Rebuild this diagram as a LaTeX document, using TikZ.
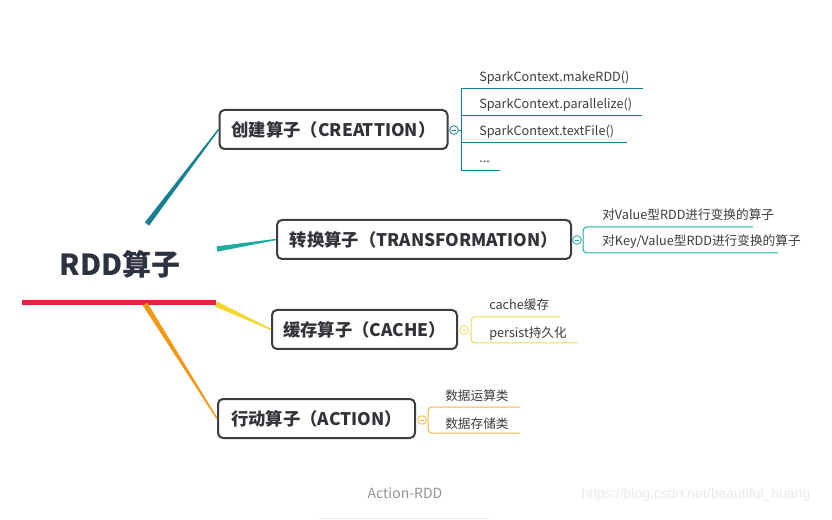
\documentclass[tikz,border=0pt]{standalone}
\usepackage{fontspec}
\setmainfont{Noto Sans CJK SC}
\newfontfamily\urlfont{Liberation Sans}
\usetikzlibrary{calc}
\usepackage{xcolor}

\definecolor{rootgray}{RGB}{45,50,64}
\definecolor{boxgray}{RGB}{60,60,66}
\definecolor{boxtext}{RGB}{50,50,56}
\definecolor{subgray}{RGB}{60,60,60}
\definecolor{rddred}{RGB}{224,38,62}
\definecolor{creteal}{RGB}{22,128,146}
\definecolor{transteal}{RGB}{28,172,160}
\definecolor{cacheyel}{RGB}{246,214,40}
\definecolor{cacheline}{RGB}{242,214,80}
\definecolor{actorange}{RGB}{243,152,20}
\definecolor{actline}{RGB}{242,180,70}

% tapered branch from a start coordinate to a box
\newcommand{\taper}[3]{\fill[#1] ($(#2)!2pt!90:(#3)$) -- ($(#2)!2pt!-90:(#3)$) -- ($(#3)!0.5pt!90:(#2)$) -- ($(#3)!0.5pt!-90:(#2)$) -- cycle;}

\tikzset{
  opbox/.style={draw=boxgray, line width=1.5pt, rectangle, rounded corners=3.75pt, fill=white, minimum height=29.25pt, inner sep=0pt, font=\fontsize{13}{15}\selectfont\bfseries, text=boxtext},
  subtext/.style={anchor=base west, inner sep=0pt, font=\fontsize{9.5}{11}\selectfont, text=subgray},
  fold/.style={circle, draw, fill=white, line width=0.6pt, inner sep=0pt, minimum size=6.5pt},
}

\begin{document}
\begin{tikzpicture}[x=0.75pt, y=-0.75pt]
  \useasboundingbox (0,0) rectangle (832,520);

  \node[font=\fontsize{21.75}{26}\selectfont\bfseries, text=rootgray] (root) at (120,264) {RDD算子};
  \coordinate (barL) at (22,302.5);
  \coordinate (barR) at (216,302.5);
  \draw[rddred, line width=3.75pt] (barL) -- (barR);

  \node[opbox, minimum width=171pt] (cre) at (333.5,129.5) {创建算子（CREATTION）};
  \node[opbox, minimum width=220.5pt] (trans) at (424,239.5) {转换算子（TRANSFORMATION）};
  \node[opbox, minimum width=138.75pt] (cache) at (364.5,329.5) {缓存算子（CACHE）};
  \node[opbox, minimum width=147.75pt] (act) at (316.5,418.5) {行动算子（ACTION）};

  \coordinate (creS) at (147,224);
  \coordinate (transS) at (217,249);
  \coordinate (cacheS) at (216,304);
  \coordinate (actS) at (145,304);
  \taper{creteal}{creS}{cre.west}
  \taper{transteal}{transS}{trans.west}
  \taper{cacheyel}{cacheS}{cache.west}
  \taper{actorange}{actS}{act.west}

  % creation
  \draw[creteal, line width=0.75pt] (643,89) -- (461,89) -- (461,171) -- (500,171);
  \draw[creteal, line width=0.75pt] (461,116) -- (642,116);
  \draw[creteal, line width=0.75pt] (461,143) -- (627,143);
  \node[fold, draw=creteal] (creF) at (454,130) {};
  \coordinate (creB) at (461,130);
  \draw[creteal, line width=0.6pt] (creF.east) -- (creB);
  \draw[creteal, line width=0.6pt] ($(creF)+(-2,0)$) -- ($(creF)+(2,0)$);
  \node[subtext] (mk) at (479,81.5) {SparkContext.makeRDD()};
  \node[subtext] (par) at (479,108.5) {SparkContext.parallelize()};
  \node[subtext] (tf) at (479,135.5) {SparkContext.textFile()};
  \node[subtext] (dots) at (479,163) {...};

  % transformation
  \draw[transteal, line width=0.75pt, rounded corners=3pt] (753,227) -- (583,227) -- (583,253) -- (778,253);
  \node[fold, draw=transteal] (transF) at (577,240) {};
  \draw[transteal, line width=0.6pt] ($(transF)+(-2,0)$) -- ($(transF)+(2,0)$);
  \node[subtext] (val) at (602,220) {对Value型RDD进行变换的算子};
  \node[subtext] (kv) at (602,246) {对Key/Value型RDD进行变换的算子};

  % cache
  \draw[cacheline, line width=0.75pt, rounded corners=3pt] (560,317) -- (471,317) -- (471,343) -- (577,343);
  \node[fold, draw=cacheline] (cacheF) at (464,330) {};
  \draw[cacheline, line width=0.6pt] ($(cacheF)+(-2,0)$) -- ($(cacheF)+(2,0)$);
  \node[subtext] (cc) at (489,310) {cache缓存};
  \node[subtext] (ps) at (489,338) {persist持久化};

  % action
  \draw[actline, line width=0.75pt, rounded corners=3pt] (520,407) -- (428,407) -- (428,433) -- (520,433);
  \node[fold, draw=actline] (actF) at (422,420) {};
  \draw[actline, line width=0.6pt] ($(actF)+(-2,0)$) -- ($(actF)+(2,0)$);
  \node[subtext] (calc) at (445,400) {数据运算类};
  \node[subtext] (store) at (445,428) {数据存储类};

  \node[font=\fontsize{10.5}{12}\selectfont, text=gray!85] (cap) at (405,493) {Action-RDD};
  \coordinate (capL) at (319,518);
  \coordinate (capR) at (489,518);
  \draw[gray!15, line width=0.75pt] (capL) -- (capR);
  \node[font=\urlfont\fontsize{10.5}{12}\selectfont, text=gray!18] (wm) at (696,495) {https://blog.csdn.net/beautiful\_huang};
\end{tikzpicture}
\end{document}
